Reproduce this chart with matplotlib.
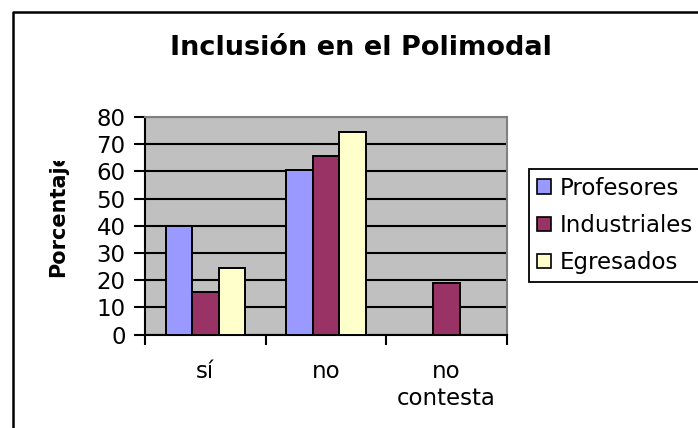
import matplotlib
matplotlib.use("Agg")
import matplotlib.pyplot as plt
import numpy as np
from matplotlib.patches import Patch
from matplotlib.lines import Line2D
from matplotlib.transforms import Bbox, TransformedBbox

categories = ["sí", "no", "no\ncontesta"]
series_names = ["Profesores", "Industriales", "Egresados"]
profesores = [40, 60.5, 0]
industriales = [15.6, 65.5, 18.8]
egresados = [24.6, 74.5, 0]
series_values = [profesores, industriales, egresados]
colors = ["#9999FF", "#993366", "#FFFFCC"]
yticks = [0, 10, 20, 30, 40, 50, 60, 70, 80]

W, H = 698, 428
fig = plt.figure(figsize=(W / 100, H / 100), dpi=100)
plt.rcParams['font.family'] = ['DejaVu Sans']

def fx(px):
    return px / W

def fy(py):
    return 1 - py / H

ax = fig.add_axes([fx(145), fy(334.5), fx(507) - fx(145), fy(117) - fy(334.5)])
ax.set_facecolor("#C0C0C0")

x = np.arange(len(categories))
w = 0.219
for i, (vals, c) in enumerate(zip(series_values, colors)):
    ax.bar(x + (i - 1) * w, vals, width=w, color=c, edgecolor="black",
           linewidth=1.4, zorder=3)

ax.set_xlim(-0.5, len(categories) - 0.5)
ax.set_ylim(0, 80)
ax.set_yticks(yticks)
ax.set_yticklabels([str(v) for v in yticks])
ax.yaxis.grid(True, color="black", linewidth=1.5, zorder=1)
ax.set_axisbelow(True)

ax.set_xticks(np.arange(-0.5, len(categories), 1.0))
ax.set_xticklabels([])
ax.set_xticks(x, minor=True)
ax.set_xticklabels(categories, minor=True, fontsize=16.5, linespacing=1.25)
ax.tick_params(axis="x", which="minor", length=0, pad=18)
ax.tick_params(axis="x", which="major", length=7, width=1.5, direction="out")
ax.tick_params(axis="y", length=8, width=1.5, direction="out", pad=6, labelsize=16.5)

for s in ["left", "bottom"]:
    ax.spines[s].set_color("black")
    ax.spines[s].set_linewidth(1.5)
for s in ["top", "right"]:
    ax.spines[s].set_color("#808080")
    ax.spines[s].set_linewidth(1.5)

# title
fig.text(fx(361), fy(55), "Inclusión en el Polimodal", ha="center", va="baseline",
         fontsize=19.5, fontweight="bold")

# y label (clipped like the reference)
yl = fig.text(fx(58), fy(277), "Porcentaje", rotation=90, ha="center", va="bottom",
              fontsize=15, fontweight="bold")
yl.set_clip_box(TransformedBbox(Bbox([[0, 0], [1, fy(161)]]), fig.transFigure))
yl.set_clip_on(True)

# legend
handles = [Patch(facecolor=c, edgecolor="black", linewidth=1.2) for c in colors]
leg = fig.legend(handles, series_names, loc="center left",
                 bbox_to_anchor=(fx(529), fy(225.5)), fontsize=16.5,
                 frameon=True, fancybox=False, shadow=False, borderpad=0.35,
                 handlelength=0.6, handleheight=0.6, handletextpad=0.4,
                 labelspacing=0.62, borderaxespad=0, framealpha=1)
leg.get_frame().set_edgecolor("black")
leg.get_frame().set_linewidth(1.3)

# outer chart border (left and top only visible)
fig.add_artist(Line2D([fx(13), fx(13), fx(700)], [fy(430), fy(12), fy(12)],
                      transform=fig.transFigure, color="black", linewidth=1.8))

fig.savefig("out.png", dpi=100)
